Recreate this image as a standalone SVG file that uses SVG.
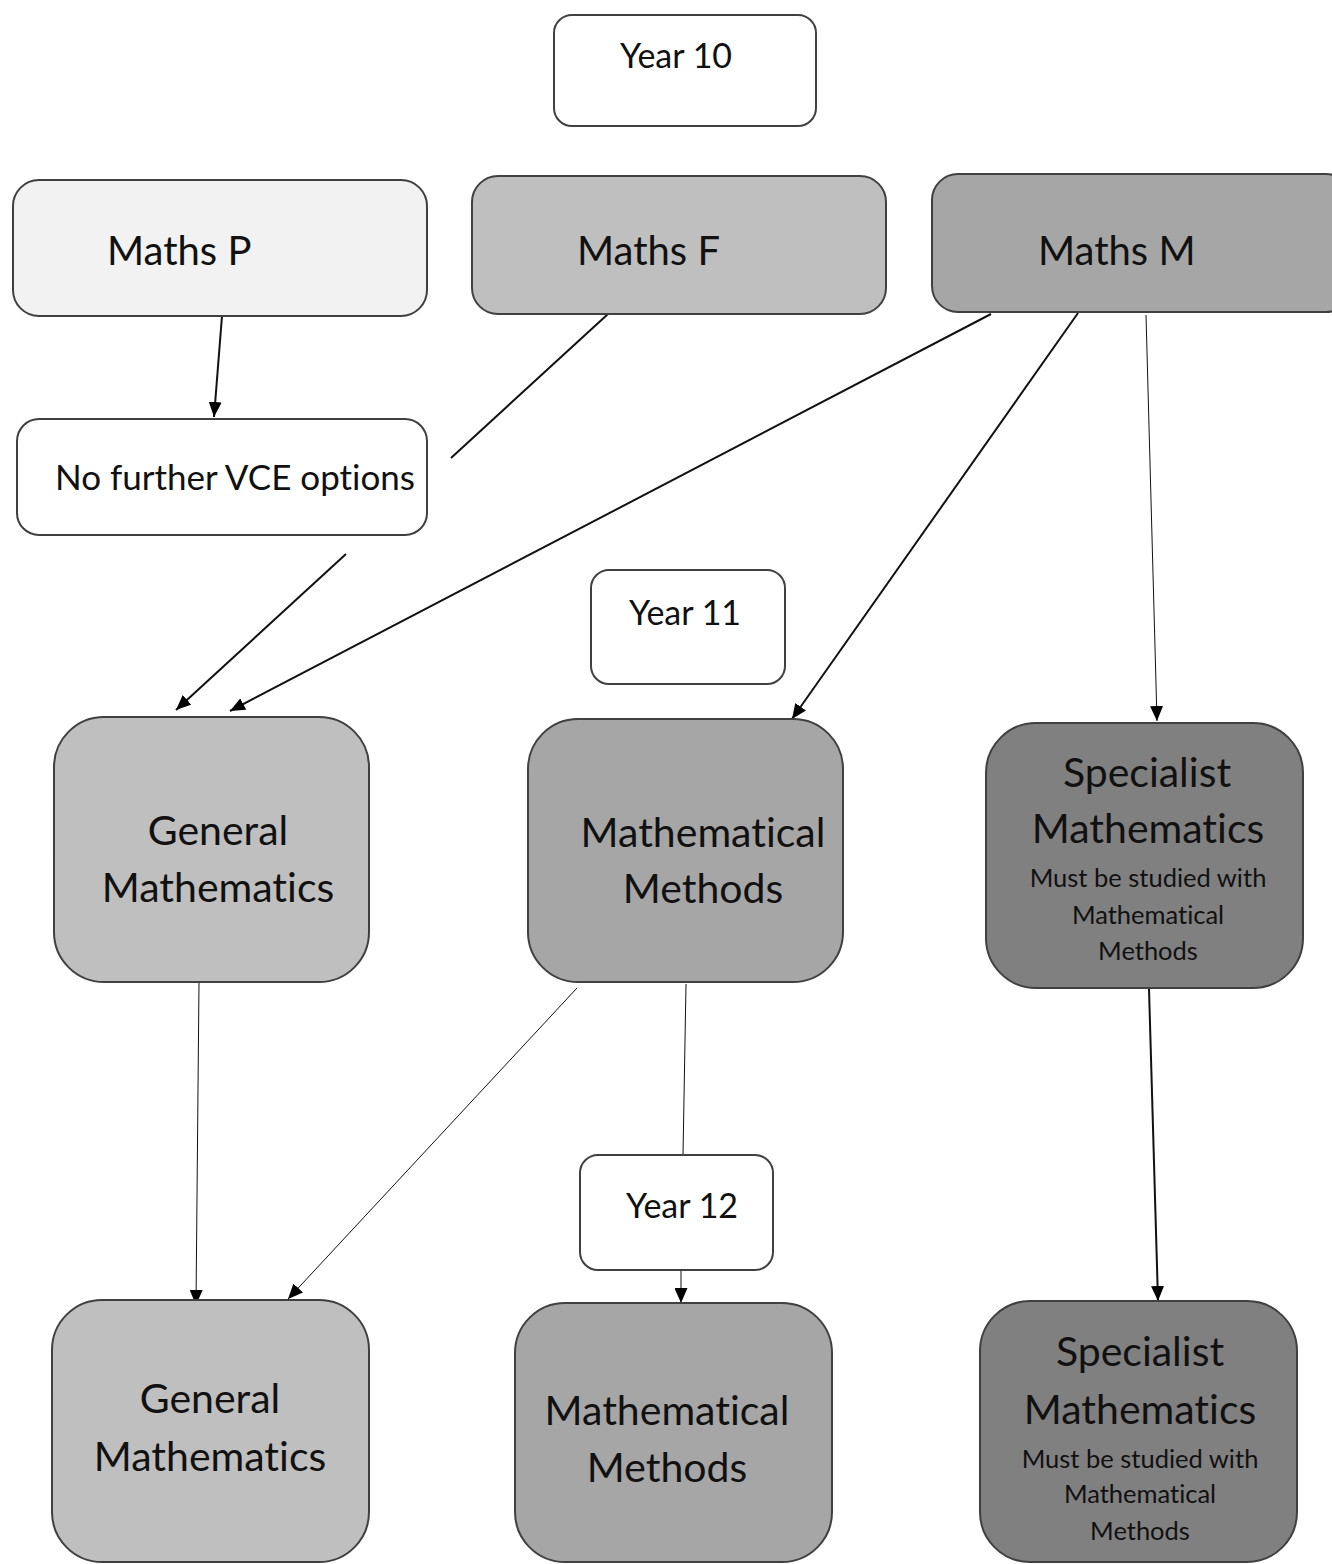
<svg xmlns="http://www.w3.org/2000/svg" width="1332" height="1564" viewBox="0 0 1332 1564">
<style>
.box{stroke:#404040;stroke-width:2}
.w{fill:#ffffff}
.p{fill:#f2f2f2}
.l{fill:#bfbfbf}
.m{fill:#a6a6a6}
.d{fill:#808080}
text{font-family:Lato,"Open Sans","Noto Sans",sans-serif;fill:#111;font-variant-ligatures:none;font-feature-settings:"liga" 0,"clig" 0,"dlig" 0,"calt" 0}
.t38{font-size:40px}
.t41{font-size:41px}
.t34{font-size:35px}
.t32{font-size:34px}
.t24{font-size:25.5px}
.c{text-anchor:middle}
.cn{stroke:#111;fill:none}
.th{stroke-width:2}
.tn{stroke-width:1}
</style>
<defs>
<marker id="ah" viewBox="0 0 15 13" refX="15" refY="6.5" markerWidth="15" markerHeight="13" markerUnits="userSpaceOnUse" orient="auto">
<path d="M0,0 L15,6.5 L0,13 Z" fill="#000"/>
</marker>
</defs>
<g id="connectors">
<line class="cn th" x1="222" y1="316" x2="214" y2="417" marker-end="url(#ah)"/>
<line class="cn th" x1="608" y1="314" x2="451" y2="458"/>
<line class="cn th" x1="346" y1="554" x2="176" y2="710" marker-end="url(#ah)"/>
<line class="cn th" x1="991" y1="314" x2="230" y2="711" marker-end="url(#ah)"/>
<line class="cn th" x1="1078" y1="313" x2="792" y2="719" marker-end="url(#ah)"/>
<line class="cn tn" x1="1146" y1="315" x2="1157" y2="721" marker-end="url(#ah)"/>
<line class="cn tn" x1="199" y1="983" x2="196" y2="1305" marker-end="url(#ah)"/>
<line class="cn tn" x1="577" y1="988" x2="288" y2="1299" marker-end="url(#ah)"/>
<line class="cn tn" x1="686" y1="984" x2="683" y2="1155"/>
<line class="cn tn" x1="681" y1="1270" x2="681" y2="1303" marker-end="url(#ah)"/>
<line class="cn th" x1="1149" y1="989" x2="1158" y2="1301" marker-end="url(#ah)"/>
</g>
<g id="year10">
<rect class="box w" x="554" y="15" width="262" height="111" rx="18"/>
<text class="t32 c" x="676" y="68">Year 10</text>
</g>
<g id="mathsP">
<rect class="box p" x="13" y="180" width="414" height="136" rx="26"/>
<text class="t38" x="107" y="265">Maths P</text>
</g>
<g id="mathsF">
<rect class="box l" x="472" y="176" width="414" height="138" rx="26"/>
<text class="t38" x="577" y="265">Maths F</text>
</g>
<g id="mathsM">
<rect class="box m" x="932" y="174" width="420" height="138" rx="26"/>
<text class="t38" x="1038" y="265">Maths M</text>
</g>
<g id="noFurther">
<rect class="box w" x="17" y="419" width="410" height="116" rx="22"/>
<text class="t34" x="55" y="490">No further VCE options</text>
</g>
<g id="year11">
<rect class="box w" x="591" y="570" width="194" height="114" rx="18"/>
<text class="t32 c" x="685" y="625">Year 11</text>
</g>
<g id="general11">
<rect class="box l" x="54" y="717" width="315" height="265" rx="50"/>
<text class="t41 c" x="218" y="845">General</text>
<text class="t41 c" x="218" y="902">Mathematics</text>
</g>
<g id="methods11">
<rect class="box m" x="528" y="719" width="315" height="263" rx="50"/>
<text class="t41 c" x="703" y="847">Mathematical</text>
<text class="t41 c" x="703" y="903">Methods</text>
</g>
<g id="specialist11">
<rect class="box d" x="986" y="723" width="317" height="265" rx="50"/>
<text class="t41 c" x="1147" y="787">Specialist</text>
<text class="t41 c" x="1148" y="843">Mathematics</text>
<text class="t24 c" x="1148" y="887">Must be studied with</text>
<text class="t24 c" x="1148" y="924">Mathematical</text>
<text class="t24 c" x="1148" y="960">Methods</text>
</g>
<g id="year12">
<rect class="box w" x="580" y="1155" width="193" height="115" rx="18"/>
<text class="t32 c" x="682" y="1218">Year 12</text>
</g>
<g id="general12">
<rect class="box l" x="52" y="1300" width="317" height="262" rx="50"/>
<text class="t41 c" x="210" y="1413">General</text>
<text class="t41 c" x="210" y="1471">Mathematics</text>
</g>
<g id="methods12">
<rect class="box m" x="515" y="1303" width="317" height="259" rx="50"/>
<text class="t41 c" x="667" y="1425">Mathematical</text>
<text class="t41 c" x="667" y="1482">Methods</text>
</g>
<g id="specialist12">
<rect class="box d" x="980" y="1301" width="317" height="261" rx="50"/>
<text class="t41 c" x="1140" y="1366">Specialist</text>
<text class="t41 c" x="1140" y="1424">Mathematics</text>
<text class="t24 c" x="1140" y="1468">Must be studied with</text>
<text class="t24 c" x="1140" y="1503">Mathematical</text>
<text class="t24 c" x="1140" y="1540">Methods</text>
</g>
</svg>
